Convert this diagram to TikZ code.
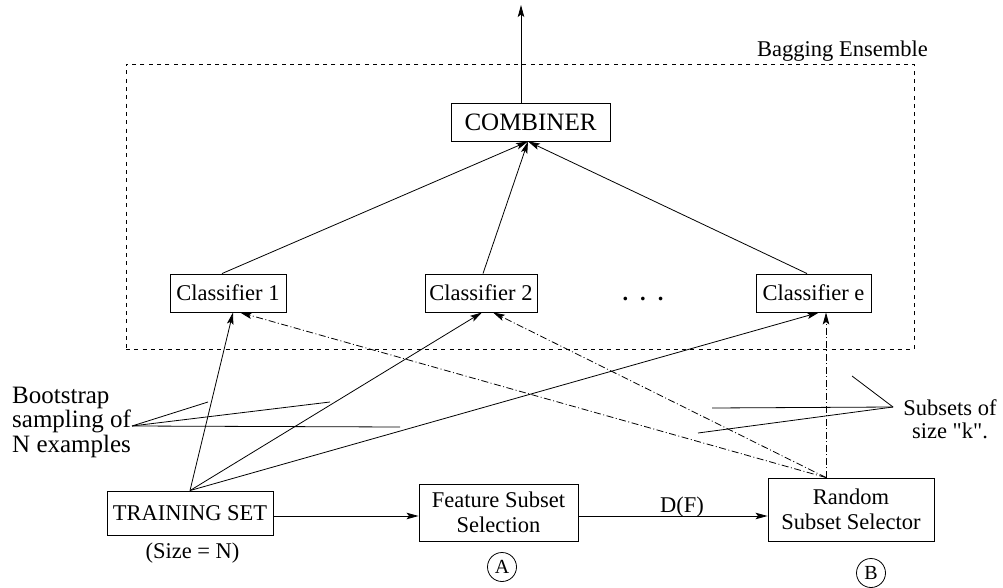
\documentclass[tikz,border=0pt]{standalone}
\usepackage{fontspec}
\setmainfont{Liberation Serif}
\newfontfamily\qfont{Liberation Serif}
\usetikzlibrary{arrows.meta}
\begin{document}
\begin{tikzpicture}[x=1pt,y=-1pt,
  box/.style={draw,line width=0.9pt,inner sep=0pt,align=center,font=\fontsize{22.5}{24.5}\selectfont},
  lbl/.style={inner sep=0pt,font=\fontsize{22.5}{23}\selectfont},
  arr/.style={line width=0.8pt,-{Stealth[length=12pt,width=6.5pt,inset=2.5pt]}},
  dd/.style={arr,dash pattern=on 7pt off 2.5pt on 1pt off 2.5pt},
  ptr/.style={line width=0.8pt},
  ens/.style={draw,line width=0.8pt,dash pattern=on 4pt off 4.3pt,inner sep=0pt},
  circ/.style={draw,circle,line width=0.8pt,minimum size=29pt,inner sep=0pt,font=\fontsize{20}{20}\selectfont}]
\useasboundingbox (0,0) rectangle (1003,588);

% ensemble frame
\node[ens,minimum width=788pt,minimum height=285pt] (ensemble) at (520,206.5) {};
\node[lbl,anchor=base west] (bag) at (757,57) {Bagging Ensemble};

% boxes
\node[box,minimum width=159pt,minimum height=38pt,font=\fontsize{25}{26}\selectfont] (comb) at (530.5,122) {COMBINER};
\node[box,minimum width=116pt,minimum height=38pt] (c1) at (228,293) {Classifier 1};
\node[box,minimum width=112pt,minimum height=38pt] (c2) at (481,293) {Classifier 2};
\node[box,minimum width=115pt,minimum height=38pt] (ce) at (813.5,293) {Classifier e};
\node[lbl,anchor=base,font=\bfseries\fontsize{22.5}{23}\selectfont] (dots) at (643,300) {.\hspace{12pt}.\hspace{12pt}.};
\node[box,minimum width=166pt,minimum height=44pt] (ts) at (190,513) {TRAINING SET};
\node[box,minimum width=159pt,minimum height=57pt] (fss) at (498.5,512.5) {Feature Subset\\Selection};
\node[box,minimum width=166pt,minimum height=63pt] (rss) at (851,509.5) {Random\\Subset Selector};

% labels
\node[lbl,anchor=base] (size) at (192.5,558) {(Size = N)};
\node[lbl,anchor=base] (df) at (682,512) {D(F)};
\node[circ] (A) at (502,567) {A};
\node[circ] (B) at (871,573) {B};
\node[inner sep=0pt,anchor=base west,font=\fontsize{25}{23.5}\selectfont] (boot) at (12,403)
  {\begin{tabular}[t]{@{}l@{}}Bootstrap\\sampling of\\N examples\end{tabular}};
\node[inner sep=0pt,anchor=base,font=\fontsize{22.5}{23}\selectfont] (subs) at (950,415)
  {\begin{tabular}[t]{@{}c@{}}Subsets of\\{\qfont size "k".}\end{tabular}};

% output
\coordinate (out) at (521,5);
\draw[arr] ([xshift=-9.5pt]comb.north) -- (out);

% classifiers to combiner
\draw[arr] ([xshift=-6pt]c1.north) -- ([xshift=-2.5pt]comb.south);
\draw[arr] ([xshift=2pt]c2.north) -- ([xshift=-2.5pt]comb.south);
\draw[arr] ([xshift=-6.5pt]ce.north) -- ([xshift=-2.5pt]comb.south);

% bootstrap samples
\draw[arr] (ts.north) -- ([xshift=5pt]c1.south);
\draw[arr] (ts.north) -- ([xshift=1pt]c2.south);
\draw[arr] (ts.north) -- ([xshift=5.5pt]ce.south);

% feature subsets
\draw[dd] ([xshift=-25pt]rss.north) -- ([xshift=12pt]c1.south);
\draw[dd] ([xshift=-25pt]rss.north) -- ([xshift=12pt]c2.south);
\draw[dd] ([xshift=-25pt]rss.north) -- ([xshift=12.5pt]ce.south);

% bottom chain
\draw[arr] ([yshift=-3pt]ts.east) -- ([yshift=-3pt]ts.east -| fss.west);
\draw[arr] ([yshift=-3.5pt]fss.east) -- ([yshift=-3.5pt]fss.east -| rss.west);

% pointer lines
\coordinate (bsp) at (132,426);
\coordinate (b1) at (208,402);
\coordinate (b2) at (330,402);
\coordinate (b3) at (400,427);
\draw[ptr] (bsp) -- (b1);
\draw[ptr] (bsp) -- (b2);
\draw[ptr] (bsp) -- (b3);
\coordinate (ssp) at (893,407);
\coordinate (s1) at (852,376);
\coordinate (s2) at (712,408);
\coordinate (s3) at (698,433);
\draw[ptr] (ssp) -- (s1);
\draw[ptr] (ssp) -- (s2);
\draw[ptr] (ssp) -- (s3);
\end{tikzpicture}
\end{document}
